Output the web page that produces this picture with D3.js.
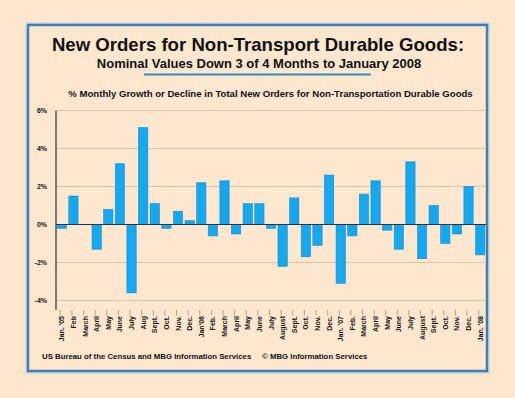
<!DOCTYPE html>
<html><head><meta charset="utf-8">
<script src="https://cdn.jsdelivr.net/npm/d3@7"></script>
<style>
html,body{margin:0;padding:0;background:#fde8cf;}
svg{display:block;}
text{font-family:"Liberation Sans",Arial,sans-serif;font-weight:bold;fill:#111;}
</style></head>
<body>
<svg id="c" width="515" height="398"></svg>
<script>
const months = ["Jan. '05","Feb","March","April","May","June","July","Aug","Sept.","Oct.","Nov.","Dec.",
  "Jan'06","Feb.","March","April","May","June","July","August","Sept.","Oct.","Nov.","Dec.",
  "Jan. '07","Feb.","March","April","May","June","July","August","Sept.","Oct.","Nov.","Dec.",
  "Jan. '08"];
const growth = [-0.2,1.5,0.0,-1.3,0.8,3.2,-3.6,5.1,1.1,-0.2,0.7,0.2,
  2.2,-0.6,2.3,-0.5,1.1,1.1,-0.2,-2.2,1.4,-1.7,-1.1,2.6,
  -3.1,-0.6,1.6,2.3,-0.3,-1.3,3.3,-1.8,1.0,-1.0,-0.5,2.0,
  -1.6];
const yTicks = [-4,-2,0,2,4,6];
const yTickLabels = ["-4%","-2%","0%","2%","4%","6%"];
const title = "New Orders for Non-Transport Durable Goods:";
const subtitle = "Nominal Values Down 3 of 4 Months to January 2008";
const chartTitle = "% Monthly Growth or Decline in Total New Orders for Non-Transportation Durable Goods";
const source1 = "US Bureau of the Census and MBG Information Services";
const source2 = "\u00A9 MBG Information Services";

const svg = d3.select("#c");
svg.append("rect").attr("width",515).attr("height",398).attr("fill","#fde8cf");
// frame
svg.append("rect").attr("x",26).attr("y",23).attr("width",463).attr("height",350)
  .attr("fill","none").attr("stroke","#a9cfea").attr("stroke-width",1);
svg.append("rect").attr("x",28).attr("y",25).attr("width",459).attr("height",346)
  .attr("fill","#fde8cf").attr("stroke","#3f7fb5").attr("stroke-width",2.5);

svg.append("text").attr("x",258).attr("y",51).attr("text-anchor","middle")
  .style("font-size","18.6px").text(title);
svg.append("text").attr("x",259).attr("y",68).attr("text-anchor","middle")
  .style("font-size","13px").text(subtitle);
svg.append("line").attr("x1",144).attr("x2",371).attr("y1",74.5).attr("y2",74.5)
  .attr("stroke","#3a8ac4").attr("stroke-width",2);
svg.append("text").attr("x",270.5).attr("y",97).attr("text-anchor","middle")
  .style("font-size","9.6px").text(chartTitle);

const x = d3.scaleBand().domain(months.map((m,i)=>i)).range([56,486]).paddingInner(0.2).paddingOuter(0.1);
const y = d3.scaleLinear().domain([-4.5,6]).range([310,110.5]);

// gridlines
svg.append("g").selectAll("line").data(yTicks.filter(t=>t!==0)).join("line")
  .attr("x1",56).attr("x2",486).attr("y1",d=>y(d)).attr("y2",d=>y(d))
  .attr("stroke","#d8c6a6").attr("stroke-width",1);

// y labels
svg.append("g").selectAll("text").data(yTicks).join("text")
  .attr("x",47).attr("y",d=>y(d)+2.5).attr("text-anchor","end")
  .style("font-size","7px").text((d,i)=>yTickLabels[i]);

// bars
svg.append("g").selectAll("rect").data(growth).join("rect")
  .attr("x",(d,i)=>x(i)).attr("width",x.bandwidth())
  .attr("y",d=>y(Math.max(0,d))).attr("height",d=>Math.abs(y(d)-y(0)))
  .attr("fill","#16a8ee").attr("stroke","#1a8ccc").attr("stroke-width",0.6);

// zero line & y axis
svg.append("line").attr("x1",56).attr("x2",486).attr("y1",y(0)).attr("y2",y(0))
  .attr("stroke","#2a3440").attr("stroke-width",1.2);
svg.append("line").attr("x1",56).attr("x2",56).attr("y1",y(6)).attr("y2",y(-4.5))
  .attr("stroke","#2a3440").attr("stroke-width",1.2);

// x ticks and labels
const xg = svg.append("g");
xg.selectAll("line").data(months).join("line")
  .attr("x1",(d,i)=>x(i)+x.bandwidth()/2-1.5).attr("x2",(d,i)=>x(i)+x.bandwidth()/2-1.5)
  .attr("y1",310).attr("y2",315.5).attr("stroke","#9a9080").attr("stroke-width",0.8);
xg.selectAll("text").data(months).join("text")
  .attr("transform",(d,i)=>`translate(${x(i)+x.bandwidth()/2+2.5},316) rotate(-90)`)
  .attr("text-anchor","end").style("font-size","7px").text(d=>d);

svg.append("text").attr("x",42).attr("y",359).style("font-size","7.8px").text(source1);
svg.append("text").attr("x",262).attr("y",359).style("font-size","7.8px").text(source2);
</script>
</body></html>
